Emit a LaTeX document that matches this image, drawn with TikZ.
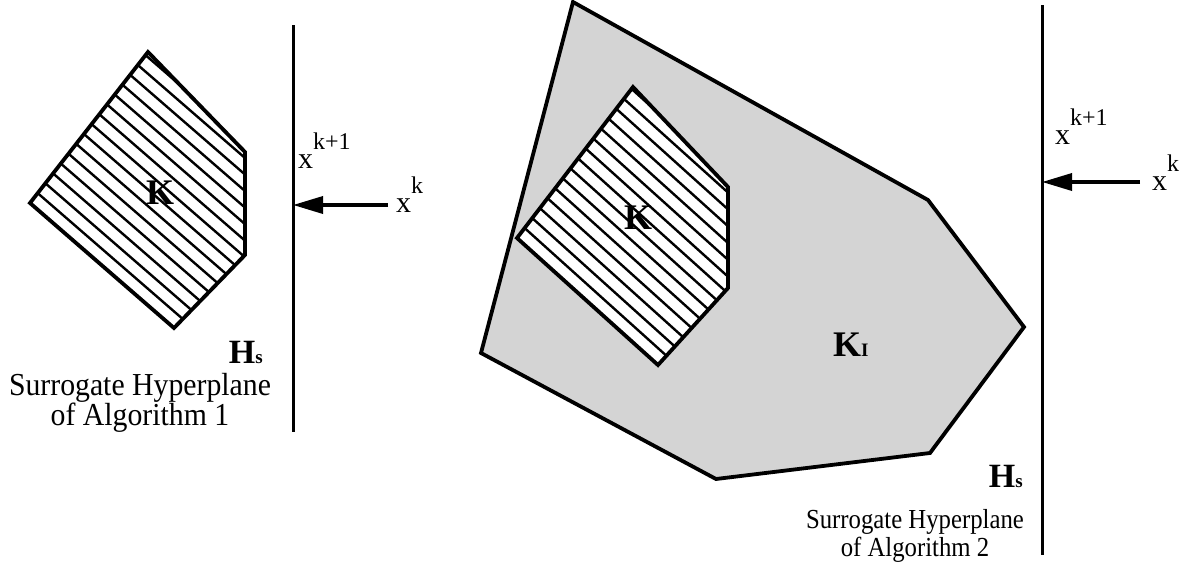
\documentclass[tikz,border=0pt]{standalone}
\usepackage{fontspec}
\setmainfont{Liberation Serif}
\usetikzlibrary{arrows.meta,calc}
\newcommand{\narrowtxt}[2][0.9]{\scalebox{#1}[1]{#2}}
\begin{document}
\begin{tikzpicture}[x=1pt,y=-1pt,
  edge/.style={line width=3.8pt, line join=miter},
  hatchline/.style={line width=2.4pt},
  plane/.style={line width=3pt},
  push/.style={line width=3.5pt, -{Triangle[length=30pt,width=17pt]}},
  capL/.style={inner sep=0pt, align=center, font=\fontsize{32}{30}\selectfont},
  capR/.style={inner sep=0pt, align=center, font=\fontsize{27.5}{28}\selectfont},
  setlbl/.style={inner sep=0pt, font=\bfseries\fontsize{36}{36}\selectfont},
  hlbl/.style={inner sep=0pt, font=\bfseries\fontsize{34}{34}\selectfont},
  xlbl/.style={inner sep=0pt, font=\fontsize{30}{30}\selectfont},
  shade/.style={fill=black!17}
]
\useasboundingbox (0,0) rectangle (1186,573);

% ---------- left panel ----------
\coordinate (a1) at (148,52);
\coordinate (a2) at (245,152);
\coordinate (a3) at (245,255);
\coordinate (a4) at (174,328);
\coordinate (a5) at (30,203);
\begin{scope}
  \clip (a1)--(a2)--(a3)--(a4)--(a5)--cycle;
  \foreach \i in {0,...,17}{
    \draw[hatchline] ($(a5)+(\i*12.5*0.655-40*0.755,-\i*12.5*0.755-40*0.655)$) -- ++(320*0.755,320*0.655);
  }
\end{scope}
\draw[edge] (a1)--(a2)--(a3)--(a4)--(a5)--cycle;
\node[setlbl] (kL) at (160,193) {K};

\coordinate (pLt) at (293,25);
\coordinate (pLb) at (293,432);
\draw[plane] (pLt) -- (pLb);
\coordinate (tipL) at (293,205);
\coordinate (tailL) at (388,205);
\draw[push] (tailL) -- (tipL);
\node[xlbl, anchor=base west] (xkL) at (396,212) {x\raisebox{0.62em}{\fontsize{24}{24}\selectfont k}};
\node[xlbl, anchor=base west] (xk1L) at (298,168) {x\raisebox{0.62em}{\fontsize{24}{24}\selectfont k+1}};
\node[hlbl, anchor=base east] (hsL) at (263,363) {H{\fontsize{19}{19}\selectfont s}};
\node[capL, anchor=base] (capL1) at (140,395) {\narrowtxt[0.93]{Surrogate Hyperplane}};
\node[capL, anchor=base] (capL2) at (140,425) {\narrowtxt[0.93]{of Algorithm 1}};

% ---------- right panel ----------
\coordinate (b1) at (573,2);
\coordinate (b2) at (928,200);
\coordinate (b3) at (1024,327);
\coordinate (b4) at (930,453);
\coordinate (b5) at (716,479);
\coordinate (b6) at (481,353);
\draw[edge, shade] (b1)--(b2)--(b3)--(b4)--(b5)--(b6)--cycle;

\coordinate (c1) at (633,87);
\coordinate (c2) at (728,187);
\coordinate (c3) at (728,288);
\coordinate (c4) at (658,365);
\coordinate (c5) at (517,238);
\fill[white] (c1)--(c2)--(c3)--(c4)--(c5)--cycle;
\begin{scope}
  \clip (c1)--(c2)--(c3)--(c4)--(c5)--cycle;
  \foreach \i in {0,...,17}{
    \draw[hatchline] ($(c5)+(\i*12.5*0.669-40*0.743,-\i*12.5*0.743-40*0.669)$) -- ++(320*0.743,320*0.669);
  }
\end{scope}
\draw[edge] (c1)--(c2)--(c3)--(c4)--(c5)--cycle;
\node[setlbl] (kR) at (638,218) {K};
\node[setlbl, anchor=base west] (kI) at (833,356) {K{\fontsize{19}{19}\selectfont I}};

\coordinate (pRt) at (1042,5);
\coordinate (pRb) at (1042,555);
\draw[plane] (pRt) -- (pRb);
\coordinate (tipR) at (1042,182);
\coordinate (tailR) at (1140,182);
\draw[push] (tailR) -- (tipR);
\node[xlbl, anchor=base west] (xkR) at (1152,190) {x\raisebox{0.62em}{\fontsize{24}{24}\selectfont k}};
\node[xlbl, anchor=base west] (xk1R) at (1055,144) {x\raisebox{0.62em}{\fontsize{24}{24}\selectfont k+1}};
\node[hlbl, anchor=base east] (hsR) at (1023,487) {H{\fontsize{19}{19}\selectfont s}};
\node[capR, anchor=base] (capR1) at (915,528) {\narrowtxt{Surrogate Hyperplane}};
\node[capR, anchor=base] (capR2) at (915,556) {\narrowtxt{of Algorithm 2}};
\end{tikzpicture}
\end{document}
